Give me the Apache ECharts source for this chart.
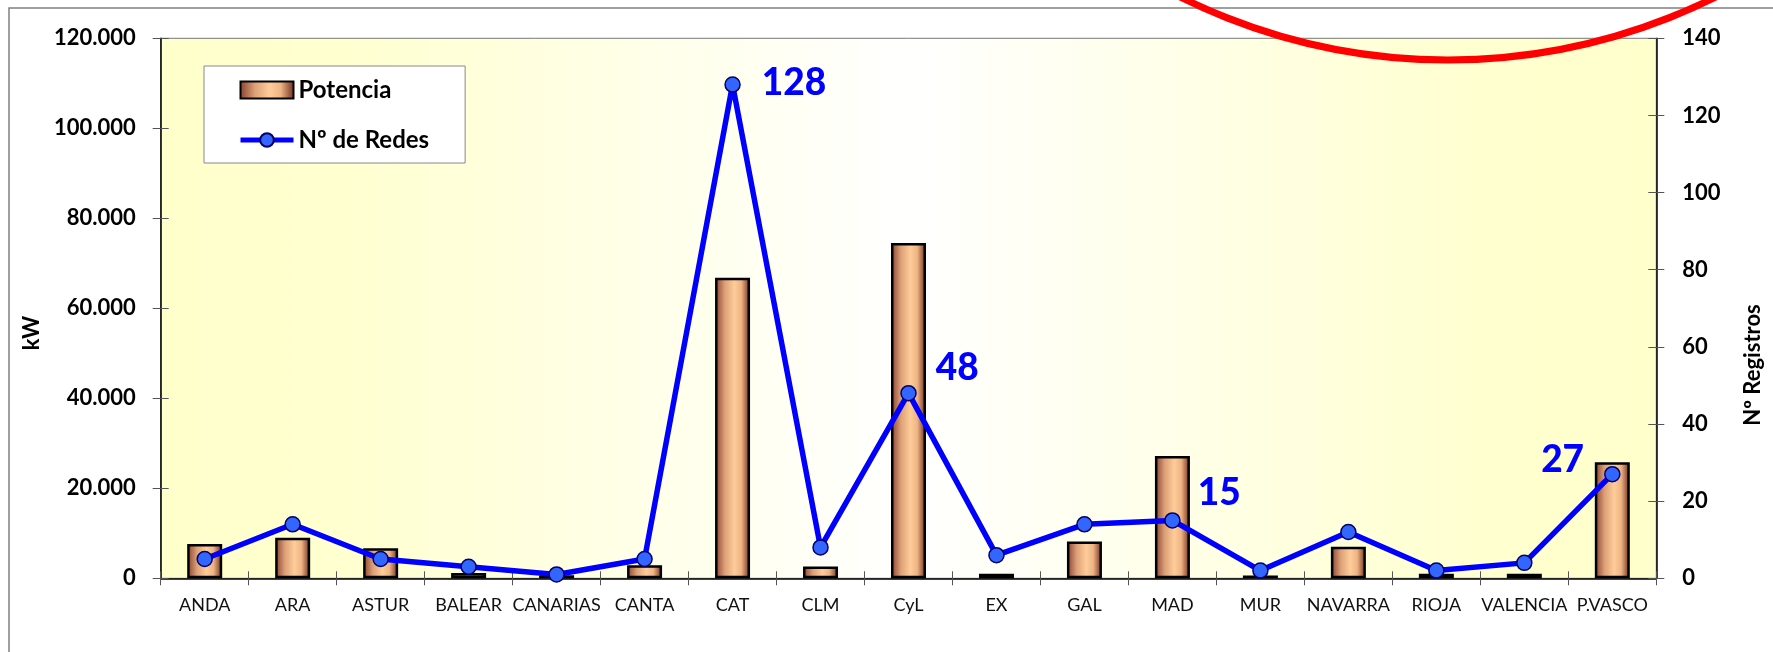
<!DOCTYPE html>
<html><head><meta charset="utf-8">
<script src="https://cdn.jsdelivr.net/npm/echarts@6.0.0/dist/echarts.min.js"></script>
<style>html,body{margin:0;padding:0;background:#fff}#c{width:1773px;height:652px}</style>
</head><body><div id="c"></div><script>
// ---- data ----
const categories = ['ANDA','ARA','ASTUR','BALEAR','CANARIAS','CANTA','CAT','CLM','CyL','EX','GAL','MAD','MUR','NAVARRA','RIOJA','VALENCIA','P.VASCO'];
const potenciaKW = [7600, 9000, 6700, 1200, 700, 2900, 66800, 2600, 74500, 1000, 8200, 27200, 600, 7000, 1000, 1000, 25800];
const numRedes   = [5, 14, 5, 3, 1, 5, 128, 8, 48, 6, 14, 15, 2, 12, 2, 4, 27];
const labelledRegions = ['CAT', 'CyL', 'MAD', 'P.VASCO'];
const leftAxis  = { min: 0, max: 120000, interval: 20000 };
const rightAxis = { min: 0, max: 140, interval: 20 };
const seriesNames = ['Potencia', 'Nº de Redes'];
const axisTitles = { left: 'kW', right: 'Nº Registros' };

// ---- styles ----
const FONT = 'Lato';
const labelPlacement = {
  'CAT':     { position: 'right', distance: 21, offset: [0, -2] },
  'CyL':     { position: 'right', distance: 19, offset: [0, -25] },
  'MAD':     { position: 'right', distance: 17, offset: [0, -27] },
  'P.VASCO': { position: 'left',  distance: 20, offset: [0, -14] }
};
const fmtThousands = v => String(v).replace(/\B(?=(\d{3})+(?!\d))/g, '.');

const chart = echarts.init(document.getElementById('c'), null, { renderer: 'canvas' });

const barGradient = new echarts.graphic.LinearGradient(0, 0, 1, 0, [
  { offset: 0, color: '#853F2E' },
  { offset: 0.28, color: '#DDA077' },
  { offset: 0.55, color: '#FFCC99' },
  { offset: 0.75, color: '#EEB484' },
  { offset: 1, color: '#6E2A1C' }
]);
const plotGradient = new echarts.graphic.LinearGradient(0, 0, 1, 0, [
  { offset: 0, color: '#FFFFCC' },
  { offset: 0.12, color: '#FFFFD0' },
  { offset: 0.5, color: '#FFFFFF' },
  { offset: 0.88, color: '#FFFFD0' },
  { offset: 1, color: '#FFFFCC' }
]);

const yLabel = { fontFamily: FONT, fontWeight: 'bold', fontSize: 22, color: '#000' };

const option = {
  backgroundColor: '#fff',
  animation: false,
  grid: { left: 160.7, top: 38.3, right: 116.7, bottom: 73.7, show: true,
          backgroundColor: plotGradient, borderColor: '#777', borderWidth: 1 },
  legend: {
    orient: 'vertical', left: 204, top: 66,
    padding: [12, 36, 11, 34], itemGap: 26, itemWidth: 53, itemHeight: 17,
    backgroundColor: '#fff', borderColor: '#888', borderWidth: 1,
    lineStyle: { width: 5 },
    textStyle: { fontFamily: FONT, fontWeight: 'bold', fontSize: 24, color: '#000' },
    data: [{ name: seriesNames[0], icon: 'rect' }, { name: seriesNames[1] }]
  },
  xAxis: [
    { type: 'category', data: categories, position: 'bottom',
      axisLine: { show: true, onZero: false, lineStyle: { color: '#000', width: 1.5 } },
      axisTick: { show: true, inside: false, length: 7, lineStyle: { color: '#555' } },
      axisLabel: { interval: 0, margin: 18, fontFamily: FONT, fontSize: 18, color: '#111' },
      splitLine: { show: false } },
    { type: 'category', data: categories, position: 'bottom',
      axisLine: { show: false, onZero: false },
      axisTick: { show: true, inside: true, length: 7, lineStyle: { color: '#555' } },
      axisLabel: { show: false }, splitLine: { show: false } }
  ],
  yAxis: [
    { type: 'value', position: 'left', ...leftAxis,
      axisLine: { show: true, lineStyle: { color: '#000', width: 1.5 } },
      axisTick: { show: true, inside: false, length: 8, lineStyle: { color: '#555' } },
      axisLabel: { ...yLabel, margin: 25, formatter: v => fmtThousands(v) },
      splitLine: { show: false } },
    { type: 'value', position: 'right', ...rightAxis,
      axisLine: { show: true, lineStyle: { color: '#000', width: 1.5 } },
      axisTick: { show: true, inside: false, length: 8, lineStyle: { color: '#555' } },
      axisLabel: { ...yLabel, margin: 26 },
      splitLine: { show: false } },
    { type: 'value', position: 'left', ...leftAxis,
      axisLine: { show: false },
      axisTick: { show: true, inside: true, length: 8, lineStyle: { color: '#555' } },
      axisLabel: { show: false }, splitLine: { show: false } },
    { type: 'value', position: 'right', ...rightAxis,
      axisLine: { show: false },
      axisTick: { show: true, inside: true, length: 8, lineStyle: { color: '#555' } },
      axisLabel: { show: false }, splitLine: { show: false } }
  ],
  series: [
    { name: seriesNames[0], type: 'bar', xAxisIndex: 0, yAxisIndex: 0,
      data: potenciaKW, barWidth: 35,
      itemStyle: { color: barGradient, borderColor: '#000', borderWidth: 2.5 } },
    { name: seriesNames[1], type: 'line', xAxisIndex: 0, yAxisIndex: 1, z: 5,
      data: numRedes.map((v, i) => {
        const c = categories[i];
        if (labelledRegions.indexOf(c) < 0) return v;
        return { value: v, label: { show: true, ...labelPlacement[c],
          fontFamily: FONT, fontWeight: 900, fontSize: 37, color: '#0000FF' } };
      }),
      symbol: 'circle', symbolSize: 15,
      lineStyle: { color: '#0000FF', width: 5.5 },
      itemStyle: { color: '#3366FF', borderColor: '#000066', borderWidth: 1.5 },
      label: { show: false } }
  ],
  graphic: [
    { type: 'rect', silent: true, z: 0,
      shape: { x: 9, y: 8, width: 1800, height: 700 },
      style: { fill: 'none', stroke: '#808080', lineWidth: 1.5 } },
    { type: 'text', silent: true, x: 32, y: 333, rotation: Math.PI / 2,
      style: { text: axisTitles.left, fontFamily: FONT, fontWeight: 'bold', fontSize: 22,
               fill: '#000', align: 'center', verticalAlign: 'middle' } },
    { type: 'text', silent: true, x: 1753, y: 365, rotation: Math.PI / 2,
      style: { text: axisTitles.right, fontFamily: FONT, fontWeight: 'bold', fontSize: 22,
               fill: '#000', align: 'center', verticalAlign: 'middle' } },
    { type: 'circle', silent: true, z: 100,
      shape: { cx: 1448, cy: -540, r: 600 },
      style: { fill: 'none', stroke: '#FF0000', lineWidth: 7 } }
  ]
};
chart.setOption(option);
</script></body></html>
